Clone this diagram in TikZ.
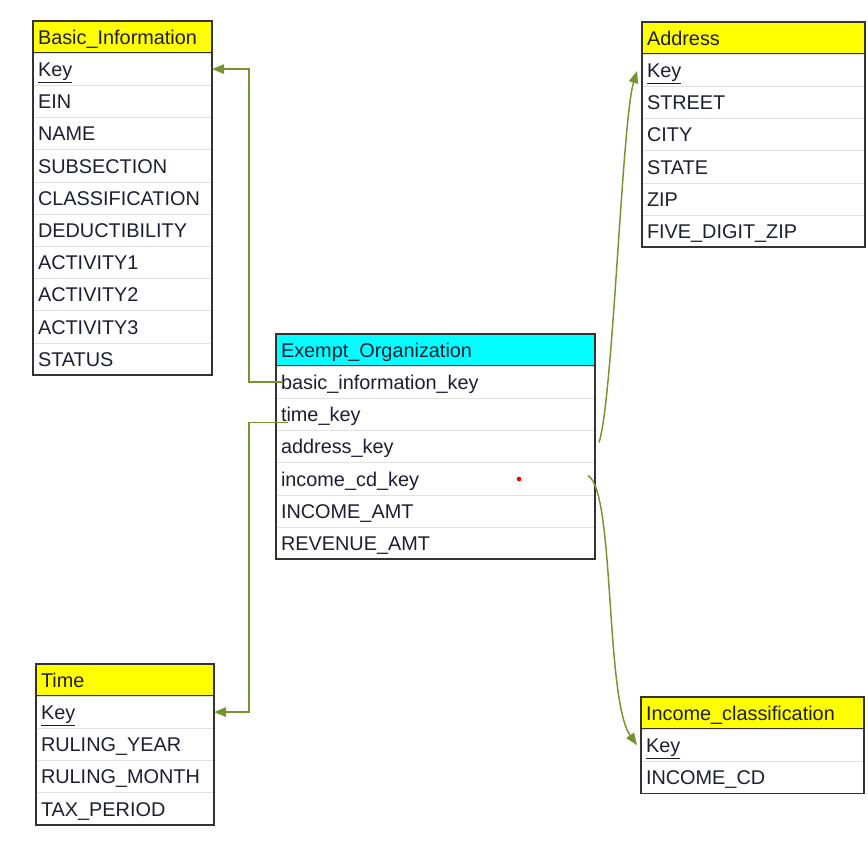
\documentclass[tikz,border=0pt]{standalone}
\usepackage{fontspec}
\setmainfont{Liberation Sans}
\usetikzlibrary{positioning,calc,arrows.meta}
\definecolor{fkgreen}{RGB}{119,147,48}
\definecolor{txt}{RGB}{30,30,50}
\definecolor{hdyellow}{RGB}{255,255,0}
\definecolor{hdcyan}{RGB}{0,255,255}
\newcommand\tblfont{\fontsize{14.9}{17}\selectfont}
\tikzset{
  head/.style={anchor=north west,fill=#1,draw=black!80,line width=1.2pt,outer sep=0pt,
    minimum height=24pt,inner xsep=3.75pt,inner ysep=0pt,align=left,
    text height=12.5pt,text depth=1.5pt,font=\tblfont,text=txt},
  row/.style={text width=#1,minimum height=24.15pt,inner xsep=3.75pt,inner ysep=0pt,
    outer sep=0pt,align=left,draw=black!12,fill=white,text height=12.5pt,text depth=1.5pt,
    font=\tblfont,text=txt},
  frame/.style={draw=black!80,line width=1.2pt},
  fk/.style={draw=fkgreen,line width=1.1pt,-{Triangle[length=9pt,width=7pt]}}
}
\begin{document}
\begin{tikzpicture}[x=0.75pt,y=-0.75pt]
 \useasboundingbox (0,0) rectangle (868,841);

 % Basic_Information
 \node[head=hdyellow,text width=126.75pt] (basic) at (33,21) {Basic\_Information};
 \node[row=126.75pt] (bkey) [below=0pt of basic] {\underline{Key}};
 \node[row=126.75pt] (bein) [below=0pt of bkey] {EIN};
 \node[row=126.75pt] (bname) [below=0pt of bein] {NAME};
 \node[row=126.75pt] (bsub) [below=0pt of bname] {SUBSECTION};
 \node[row=126.75pt] (bclass) [below=0pt of bsub] {CLASSIFICATION};
 \node[row=126.75pt] (bdeduct) [below=0pt of bclass] {DEDUCTIBILITY};
 \node[row=126.75pt] (bact1) [below=0pt of bdeduct] {ACTIVITY1};
 \node[row=126.75pt] (bact2) [below=0pt of bact1] {ACTIVITY2};
 \node[row=126.75pt] (bact3) [below=0pt of bact2] {ACTIVITY3};
 \node[row=126.75pt] (bstatus) [below=0pt of bact3] {STATUS};
 \draw[frame] (basic.north west) rectangle (bstatus.south east);

 % Address
 \node[head=hdyellow,text width=159.75pt] (addr) at (642,22) {Address};
 \node[row=159.75pt] (akey) [below=0pt of addr] {\underline{Key}};
 \node[row=159.75pt] (astreet) [below=0pt of akey] {STREET};
 \node[row=159.75pt] (acity) [below=0pt of astreet] {CITY};
 \node[row=159.75pt] (astate) [below=0pt of acity] {STATE};
 \node[row=159.75pt] (azip) [below=0pt of astate] {ZIP};
 \node[row=159.75pt] (afive) [below=0pt of azip] {FIVE\_DIGIT\_ZIP};
 \draw[frame] (addr.north west) rectangle (afive.south east);

 % Exempt_Organization
 \node[head=hdcyan,text width=231.75pt] (exempt) at (276,334) {Exempt\_Organization};
 \node[row=231.75pt] (ebik) [below=0pt of exempt] {basic\_information\_key};
 \node[row=231.75pt] (etk) [below=0pt of ebik] {time\_key};
 \node[row=231.75pt] (eak) [below=0pt of etk] {address\_key};
 \node[row=231.75pt] (eick) [below=0pt of eak] {income\_cd\_key};
 \node[row=231.75pt] (eincome) [below=0pt of eick] {INCOME\_AMT};
 \node[row=231.75pt] (erevenue) [below=0pt of eincome] {REVENUE\_AMT};
 \draw[frame] (exempt.north west) rectangle (erevenue.south east);
 \node[circle,fill=red,inner sep=0pt,minimum size=3.5pt] (dot) at (519,479) {};

 % Time
 \node[head=hdyellow,text width=126pt] (time) at (36,664) {Time};
 \node[row=126pt] (tkey) [below=0pt of time] {\underline{Key}};
 \node[row=126pt] (tyear) [below=0pt of tkey] {RULING\_YEAR};
 \node[row=126pt] (tmonth) [below=0pt of tyear] {RULING\_MONTH};
 \node[row=126pt] (tperiod) [below=0pt of tmonth] {TAX\_PERIOD};
 \draw[frame] (time.north west) rectangle (tperiod.south east);

 % Income_classification
 \node[head=hdyellow,text width=159.75pt] (income) at (641,697) {Income\_classification};
 \node[row=159.75pt] (ikey) [below=0pt of income] {\underline{Key}};
 \node[row=159.75pt] (icd) [below=0pt of ikey] {INCOME\_CD};
 \draw[frame] (income.north west) rectangle (icd.south east);

 % keys
 \draw[fk] ($(ebik.west)+(7,0)$) -| ($(bkey.east)+(37,0)$) -- (bkey.east);
 \draw[fk] ($(etk.west)+(12,8)$) -| ($(tkey.east)+(35,0)$) -- (tkey.east);
 \draw[fk] ($(eak.east)+(4,-4)$) .. controls (613,400) and (622,120) .. ($(akey.west)+(-5,1)$);
 \draw[fk] ($(eick.east)+(-7,-3)$) .. controls (615,490) and (605,700) .. ($(ikey.west)+(-4,0)$);
\end{tikzpicture}
\end{document}
